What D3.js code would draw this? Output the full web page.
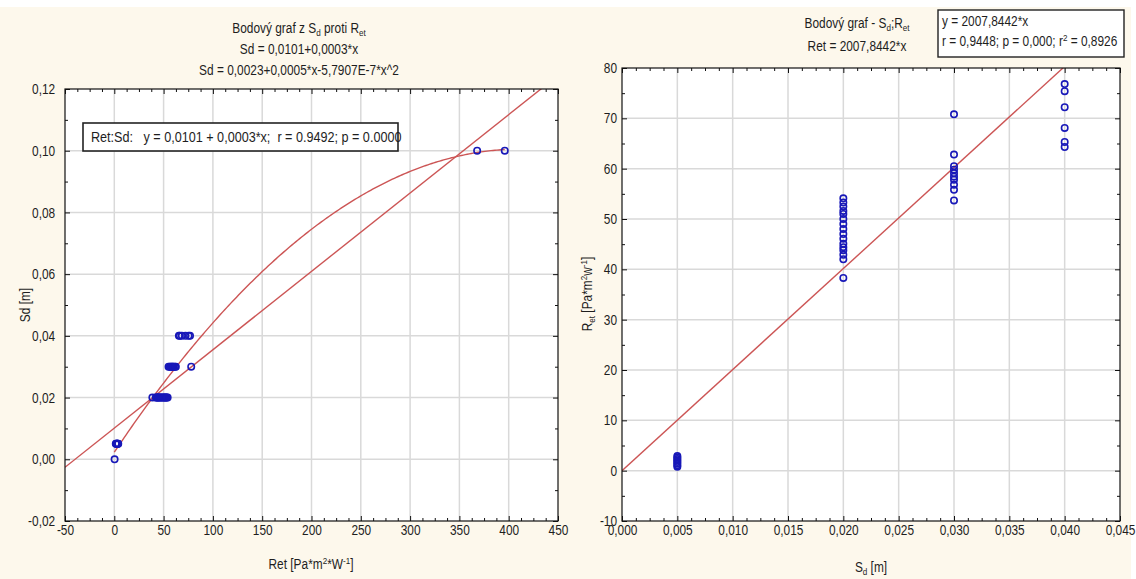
<!DOCTYPE html>
<html><head><meta charset="utf-8">
<script src="https://cdn.jsdelivr.net/npm/d3@7"></script>
<style>
body{margin:0;background:#fff;}
svg{display:block}
text{font-family:"Liberation Sans Narrow","Arial Narrow","Liberation Sans",Arial,sans-serif;fill:#1e1e1e}
</style></head>
<body><svg id="c" width="1136" height="579"></svg>
<script>
// ---------- DATA ----------
// Left panel: x = Ret, y = Sd
const leftSdLevels   = [0, 0.005, 0.02, 0.03, 0.04, 0.10];
const leftRet_sd000  = [0.3];
const leftRet_sd005  = [1.5, 2.0, 2.4, 2.8, 3.2, 3.6, 4.0];
const leftRet_sd020  = [38.6, 42.0, 42.9, 43.8, 44.4, 45.1, 46.1, 47.0, 48.0, 49.0, 50.0, 51.0, 51.6, 52.5, 53.3, 54.1];
const leftRet_sd030  = [55.0, 56.2, 57.2, 58.0, 58.8, 59.5, 60.3, 61.5, 62.4, 78.0];
const leftRet_sd040  = [65.5, 66.5, 68.5, 72.2, 75.4, 76.8];
const leftRet_sd100  = [368, 396];
const leftLinCoef    = [0.0101, 0.000254];            // Sd = a + b*x
const leftQuadCoef   = [0.0023, 0.000477, -5.7907e-7]; // Sd = a + b*x + c*x^2
const leftQuadRange  = [0, 396];
const leftXTicks     = [-50, 0, 50, 100, 150, 200, 250, 300, 350, 400, 450];
const leftYTicks     = [-0.02, 0, 0.02, 0.04, 0.06, 0.08, 0.10, 0.12];

// Right panel: x = Sd, y = Ret
const rightSdLevels  = [0.005, 0.02, 0.03, 0.04];
const rightRet_sd005 = [0.8, 1.1, 1.4, 1.7, 2.0, 2.3, 2.6, 2.9];
const rightRet_sd020 = [38.3, 42.0, 42.9, 43.8, 44.4, 45.1, 46.1, 47.0, 48.0, 49.0, 50.0, 51.0, 51.6, 52.5, 53.3, 54.1];
const rightRet_sd030 = [53.7, 55.8, 56.8, 57.8, 58.4, 59.1, 59.8, 60.5, 62.8, 70.8];
const rightRet_sd040 = [64.3, 65.3, 68.1, 72.2, 75.4, 76.8];
const rightSlope     = 2007.8442;                      // Ret = b*x
const rightXTicks    = [0, 0.005, 0.010, 0.015, 0.020, 0.025, 0.030, 0.035, 0.040, 0.045];
const rightYTicks    = [-10, 0, 10, 20, 30, 40, 50, 60, 70, 80];

// ---------- DRAWING ----------
const loc = d3.formatLocale({decimal:",", thousands:"", grouping:[3], currency:["",""], minus:"-"});
const svg = d3.select("#c");
const CREAM = "#fdf8ec", GRID = "#d9d9d9", RED = "#cc5555", BLUE = "#1818b8";
const FS = 14.5, SX = 0.82;

svg.append("rect").attr("x",0).attr("y",7).attr("width",1131).attr("height",572).attr("fill",CREAM);

function minorVals(t, n){
  const out=[];
  for(let i=0;i<t.length-1;i++) for(let k=1;k<n;k++) out.push(t[i]+(t[i+1]-t[i])*k/n);
  return out;
}

function panel(cfg){
  const g = svg.append("g");
  const x = d3.scaleLinear().domain([cfg.xTicks[0], cfg.xTicks[cfg.xTicks.length-1]]).range([cfg.left, cfg.right]);
  const y = d3.scaleLinear().domain([cfg.yTicks[0], cfg.yTicks[cfg.yTicks.length-1]]).range([cfg.bottom, cfg.top]);
  const w = cfg.right-cfg.left, h = cfg.bottom-cfg.top;
  g.append("rect").attr("x",cfg.left).attr("y",cfg.top).attr("width",w).attr("height",h).attr("fill","#fff");
  g.append("g").selectAll("line").data(cfg.xTicks.slice(1,-1)).join("line")
    .attr("x1",d=>x(d)).attr("x2",d=>x(d)).attr("y1",cfg.top).attr("y2",cfg.bottom)
    .attr("stroke",GRID).attr("stroke-width",1.5);
  g.append("g").selectAll("line").data(cfg.yTicks.slice(1,-1)).join("line")
    .attr("y1",d=>y(d)).attr("y2",d=>y(d)).attr("x1",cfg.left).attr("x2",cfg.right)
    .attr("stroke",GRID).attr("stroke-width",1.5);

  const clipId = "clip"+cfg.id;
  svg.append("clipPath").attr("id",clipId).append("rect")
    .attr("x",cfg.left).attr("y",cfg.top).attr("width",w).attr("height",h);
  const plot = g.append("g").attr("clip-path",`url(#${clipId})`);
  cfg.drawFits(plot, x, y);
  cfg.groups.forEach(([lvl, vals])=>{
    plot.append("g").selectAll("circle").data(vals).join("circle")
      .attr("cx",d=>cfg.swap? x(d): x(lvl))
      .attr("cy",d=>cfg.swap? y(lvl): y(d))
      .attr("r",3.2).attr("fill","none").attr("stroke",BLUE).attr("stroke-width",1.6);
  });

  const xMin = minorVals(cfg.xTicks, cfg.xMinor), yMin = minorVals(cfg.yTicks, cfg.yMinor);
  const styleAxis = a => { a.select(".domain").remove(); a.selectAll("line").attr("stroke","#111");
    a.selectAll("text").attr("font-size",FS).attr("font-family",null).attr("fill","#1e1e1e").attr("transform",`scale(${SX},1)`); };
  g.append("g").attr("transform",`translate(0,${cfg.bottom})`)
    .call(d3.axisBottom(x).tickValues(cfg.xTicks).tickFormat(cfg.xFmt).tickSizeInner(-5).tickSizeOuter(0).tickPadding(4)).call(styleAxis);
  g.append("g").attr("transform",`translate(0,${cfg.bottom})`)
    .call(d3.axisBottom(x).tickValues(xMin).tickFormat("").tickSizeInner(-3).tickSizeOuter(0)).call(styleAxis);
  g.append("g").attr("transform",`translate(0,${cfg.top})`)
    .call(d3.axisTop(x).tickValues(cfg.xTicks).tickFormat("").tickSizeInner(-5).tickSizeOuter(0)).call(styleAxis);
  g.append("g").attr("transform",`translate(0,${cfg.top})`)
    .call(d3.axisTop(x).tickValues(xMin).tickFormat("").tickSizeInner(-3).tickSizeOuter(0)).call(styleAxis);
  g.append("g").attr("transform",`translate(${cfg.left},0)`)
    .call(d3.axisLeft(y).tickValues(cfg.yTicks).tickFormat(cfg.yFmt).tickSizeInner(-5).tickSizeOuter(0).tickPadding(cfg.yPad)).call(styleAxis);
  g.append("g").attr("transform",`translate(${cfg.left},0)`)
    .call(d3.axisLeft(y).tickValues(yMin).tickFormat("").tickSizeInner(-3).tickSizeOuter(0)).call(styleAxis);
  g.append("g").attr("transform",`translate(${cfg.right},0)`)
    .call(d3.axisRight(y).tickValues(cfg.yTicks).tickFormat("").tickSizeInner(-5).tickSizeOuter(0)).call(styleAxis);
  g.append("g").attr("transform",`translate(${cfg.right},0)`)
    .call(d3.axisRight(y).tickValues(yMin).tickFormat("").tickSizeInner(-3).tickSizeOuter(0)).call(styleAxis);
  g.append("rect").attr("x",cfg.left).attr("y",cfg.top).attr("width",w).attr("height",h)
    .attr("fill","none").attr("stroke","#111").attr("stroke-width",1.2);
  return {x,y};
}

function rich(sel, parts, size){
  let shift = 0;
  parts.forEach(([t, k])=>{
    const target = k==="sub"? 3 : k==="sup"? -5 : 0;
    sel.append("tspan").attr("dy", target-shift).attr("font-size", k==="n"? size : size*0.68).text(t);
    shift = target;
  });
  return sel;
}

// ---- Left panel ----
panel({
  id:"L", left:65, right:558, top:89, bottom:521,
  xTicks:leftXTicks, yTicks:leftYTicks, xMinor:4, yMinor:2,
  xFmt:loc.format("d"), yFmt:loc.format(".2f"), yPad:12, swap:true,
  groups: leftSdLevels.map((l,i)=>[l, [leftRet_sd000,leftRet_sd005,leftRet_sd020,leftRet_sd030,leftRet_sd040,leftRet_sd100][i]]),
  drawFits:(p,x,y)=>{
    const dom = x.domain();
    p.append("path").datum(dom).attr("fill","none").attr("stroke",RED).attr("stroke-width",1.4)
      .attr("d", d3.line().x(d=>x(d)).y(d=>y(leftLinCoef[0]+leftLinCoef[1]*d)));
    const xs = d3.range(leftQuadRange[0], leftQuadRange[1]+0.01, 2);
    p.append("path").datum(xs).attr("fill","none").attr("stroke",RED).attr("stroke-width",1.4)
      .attr("d", d3.line().x(d=>x(d)).y(d=>y(leftQuadCoef[0]+leftQuadCoef[1]*d+leftQuadCoef[2]*d*d)));
  }
});

// ---- Right panel ----
panel({
  id:"R", left:622, right:1120, top:68, bottom:521,
  xTicks:rightXTicks, yTicks:rightYTicks, xMinor:4, yMinor:2,
  xFmt:loc.format(".3f"), yFmt:loc.format("d"), yPad:6, swap:false,
  groups: rightSdLevels.map((l,i)=>[l, [rightRet_sd005,rightRet_sd020,rightRet_sd030,rightRet_sd040][i]]),
  drawFits:(p,x,y)=>{
    const dom = x.domain();
    p.append("path").datum(dom).attr("fill","none").attr("stroke",RED).attr("stroke-width",1.4)
      .attr("d", d3.line().x(d=>x(d)).y(d=>y(rightSlope*d)));
  }
});

// ---- Titles & labels (condensed like Arial Narrow) ----
const T = (x,y,anchor,sx)=> svg.append("text").attr("x",0).attr("y",0)
  .attr("transform",`translate(${x},${y}) scale(${sx||SX},1)`)
  .attr("text-anchor",anchor||"middle").attr("font-size",FS);
const TR = (x,y)=> svg.append("text").attr("x",0).attr("y",0)
  .attr("transform",`translate(${x},${y}) rotate(-90) scale(${SX},1)`)
  .attr("text-anchor","middle").attr("font-size",FS);

rich(T(299,33), [["Bodový graf z S","n"],["d","sub"],[" proti R","n"],["et","sub"]], FS);
T(299,54).text("Sd = 0,0101+0,0003*x");
T(299,75).text("Sd = 0,0023+0,0005*x-5,7907E-7*x^2");

svg.append("rect").attr("x",83).attr("y",123).attr("width",315).attr("height",28)
  .attr("fill","#fff").attr("stroke","#222").attr("stroke-width",1.6);
T(91,142,"start",0.87).attr("xml:space","preserve").text("Ret:Sd:   y = 0,0101 + 0,0003*x;  r = 0.9492; p = 0.0000");

rich(T(311,569), [["Ret [Pa*m","n"],["2","sup"],["*W","n"],["-1","sup"],["]","n"]], FS);
TR(30,305).text("Sd [m]");

rich(T(857,28), [["Bodový graf - S","n"],["d","sub"],[";R","n"],["et","sub"]], FS);
T(857,51).text("Ret = 2007,8442*x");

svg.append("rect").attr("x",938).attr("y",10).attr("width",186).attr("height",47)
  .attr("fill","#fff").attr("stroke","#222").attr("stroke-width",1.4);
T(942,26,"start").text("y = 2007,8442*x");
rich(T(942,46,"start"), [["r = 0,9448; p = 0,000; r","n"],["2","sup"],[" = 0,8926","n"]], FS);

rich(T(871,572), [["S","n"],["d","sub"],[" [m]","n"]], FS);
rich(TR(592,294), [["R","n"],["et","sub"],[" [Pa*m","n"],["2","sup"],["w","n"],["-1","sup"],["]","n"]], FS);
</script></body></html>
